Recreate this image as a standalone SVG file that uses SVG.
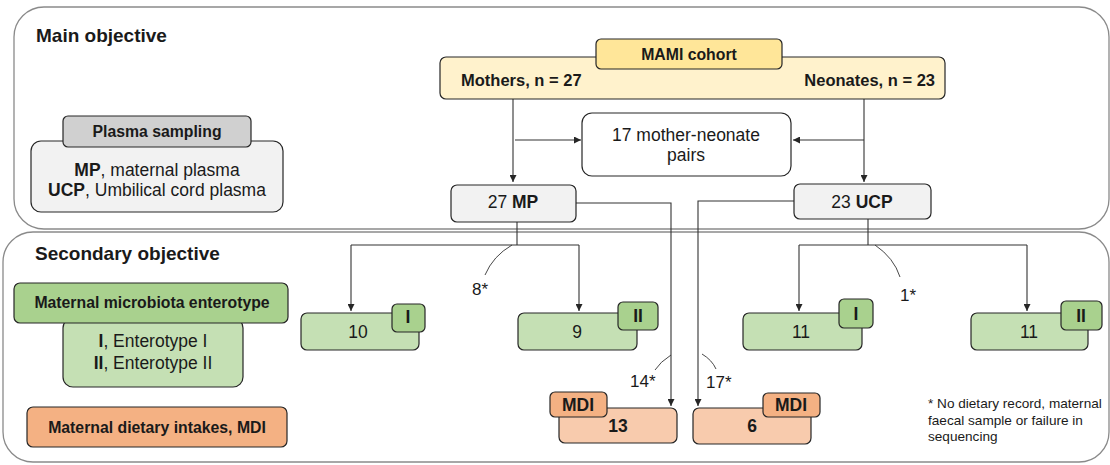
<svg xmlns="http://www.w3.org/2000/svg" width="1110" height="465" viewBox="0 0 1110 465">
<defs>
<marker id="ah" viewBox="0 0 8 8" refX="8" refY="4" markerWidth="7" markerHeight="7" markerUnits="userSpaceOnUse" orient="auto">
<path d="M0,0 L8,4 L0,8 z" fill="#262626"/>
</marker>
<style>
text{font-family:"Liberation Sans",Arial,sans-serif;fill:#1a1a1a}
.panel{fill:none;stroke:#8a8a8a;stroke-width:1.3}
.title{font-size:19px;font-weight:bold}
.nb{stroke:#262626;stroke-width:1.2}
.t{font-size:17.5px;text-anchor:middle}
.h{font-size:15.8px;font-weight:bold;text-anchor:middle}
.b{font-weight:bold}
.c{fill:none;stroke:#333;stroke-width:1.1}
.a{fill:none;stroke:#333;stroke-width:1.1;marker-end:url(#ah)}
.arc{fill:none;stroke:#333;stroke-width:0.9}
.lbl{font-size:17px}
.foot{font-size:13.6px}
.gray{fill:#f2f2f2}
.dgray{fill:#d0d0d0}
.ylight{fill:#fff2cc}
.ydark{fill:#ffe699}
.glight{fill:#c5e0b4}
.gdark{fill:#a9d18e}
.olight{fill:#f8cbad}
.odark{fill:#f4b183}
</style>
</defs>
<g id="panels">
<rect class="panel" x="14" y="7" width="1095" height="222" rx="30"/>
<rect class="panel" x="3" y="232" width="1106" height="230" rx="30"/>
<text class="title" x="36" y="42">Main objective</text>
<text class="title" x="35" y="260">Secondary objective</text>
</g>
<g id="connectors">
<path class="a" d="M513,99 V182"/>
<path class="a" d="M864,99 V182"/>
<path class="a" d="M515,140 H581"/>
<path class="a" d="M864,140 H793"/>
<path class="a" d="M576,203 H671 V406"/>
<path class="a" d="M794,201 H698 V406"/>
<path class="c" d="M517,222 V245"/>
<path class="a" d="M351,245 V311"/>
<path class="a" d="M579,245 H351 M579,245 V311"/>
<path class="c" d="M868,219 V245"/>
<path class="a" d="M799,245 V311"/>
<path class="a" d="M1027,245 H799 M1027,245 V311"/>
<path class="arc" d="M512,245 Q493,256 485,275"/>
<path class="arc" d="M875,245 Q894,258 900,277"/>
<path class="arc" d="M671,355 Q660,362 655,370"/>
<path class="arc" d="M702,354 Q712,360 716,369"/>
<text class="lbl" x="472" y="295">8*</text>
<text class="lbl" x="900" y="301">1*</text>
<text class="lbl" x="630" y="387">14*</text>
<text class="lbl" x="706" y="388">17*</text>
</g>
<g id="plasma-sampling">
<rect class="nb gray" x="31" y="141" width="252" height="71" rx="10"/>
<rect class="nb dgray" x="63" y="116" width="188" height="31" rx="5"/>
<text class="h" x="157" y="137" font-size="15">Plasma sampling</text>
<text class="t" x="157" y="176"><tspan class="b">MP</tspan>, maternal plasma</text>
<text class="t" x="157" y="196"><tspan class="b">UCP</tspan>, Umbilical cord plasma</text>
</g>
<g id="mami-cohort">
<rect class="nb ylight" x="440" y="57" width="505" height="42" rx="6"/>
<rect class="nb ydark" x="596" y="39" width="186" height="30" rx="5"/>
<text class="h" x="689" y="60">MAMI cohort</text>
<text class="b" x="461" y="86" font-size="16.5">Mothers, n = 27</text>
<text class="b" x="935" y="86" font-size="16.5" text-anchor="end">Neonates, n = 23</text>
</g>
<g id="pairs">
<rect class="nb" fill="#ffffff" x="582" y="113" width="209" height="63" rx="10"/>
<text class="t" x="686" y="141">17 mother-neonate</text>
<text class="t" x="686" y="161">pairs</text>
</g>
<g id="mp">
<rect class="nb gray" x="451" y="185" width="125" height="37" rx="6"/>
<text class="t" x="513" y="208">27 <tspan class="b">MP</tspan></text>
</g>
<g id="ucp">
<rect class="nb gray" x="794" y="184" width="137" height="35" rx="6"/>
<text class="t" x="862" y="208">23 <tspan class="b">UCP</tspan></text>
</g>
<g id="enterotype-legend">
<rect class="nb glight" x="63" y="318" width="180" height="69" rx="10"/>
<rect class="nb gdark" x="14" y="283" width="274" height="40" rx="6"/>
<text class="h" x="152" y="308">Maternal microbiota enterotype</text>
<text class="t" x="153" y="347"><tspan class="b">I</tspan>, Enterotype I</text>
<text class="t" x="153" y="369"><tspan class="b">II</tspan>, Enterotype II</text>
</g>
<g id="mdi-legend">
<rect class="nb odark" x="27" y="407" width="260" height="40" rx="6"/>
<text class="h" x="157" y="433">Maternal dietary intakes, MDI</text>
</g>
<g id="mp-e1">
<rect class="nb glight" x="301" y="313" width="118" height="37" rx="6"/>
<rect class="nb gdark" x="392" y="304" width="33" height="28" rx="5"/>
<text class="t" x="358" y="338">10</text>
<text class="t b" x="408" y="323">I</text>
</g>
<g id="mp-e2">
<rect class="nb glight" x="518" y="313" width="119" height="37" rx="6"/>
<rect class="nb gdark" x="618" y="302" width="40" height="28" rx="5"/>
<text class="t" x="577" y="338">9</text>
<text class="t b" x="638" y="322">II</text>
</g>
<g id="ucp-e1">
<rect class="nb glight" x="743" y="313" width="119" height="37" rx="6"/>
<rect class="nb gdark" x="839" y="299" width="34" height="29" rx="5"/>
<text class="t" x="801" y="338">11</text>
<text class="t b" x="856" y="320">I</text>
</g>
<g id="ucp-e2">
<rect class="nb glight" x="971" y="313" width="117" height="37" rx="6"/>
<rect class="nb gdark" x="1061" y="301" width="41" height="29" rx="5"/>
<text class="t" x="1029" y="338">11</text>
<text class="t b" x="1081" y="322">II</text>
</g>
<g id="mp-mdi">
<rect class="nb olight" x="559" y="408" width="118" height="35" rx="6"/>
<rect class="nb odark" x="550" y="392" width="57" height="25" rx="5"/>
<text class="t b" x="618" y="432">13</text>
<text class="t b" x="578" y="411">MDI</text>
</g>
<g id="ucp-mdi">
<rect class="nb olight" x="693" y="408" width="118" height="36" rx="6"/>
<rect class="nb odark" x="763" y="393" width="57" height="24" rx="5"/>
<text class="t b" x="752" y="432">6</text>
<text class="t b" x="791" y="411">MDI</text>
</g>
<g id="footnote">
<text class="foot" x="928" y="408">* No dietary record, maternal</text>
<text class="foot" x="928" y="425">faecal sample or failure in</text>
<text class="foot" x="928" y="441">sequencing</text>
</g>
</svg>
